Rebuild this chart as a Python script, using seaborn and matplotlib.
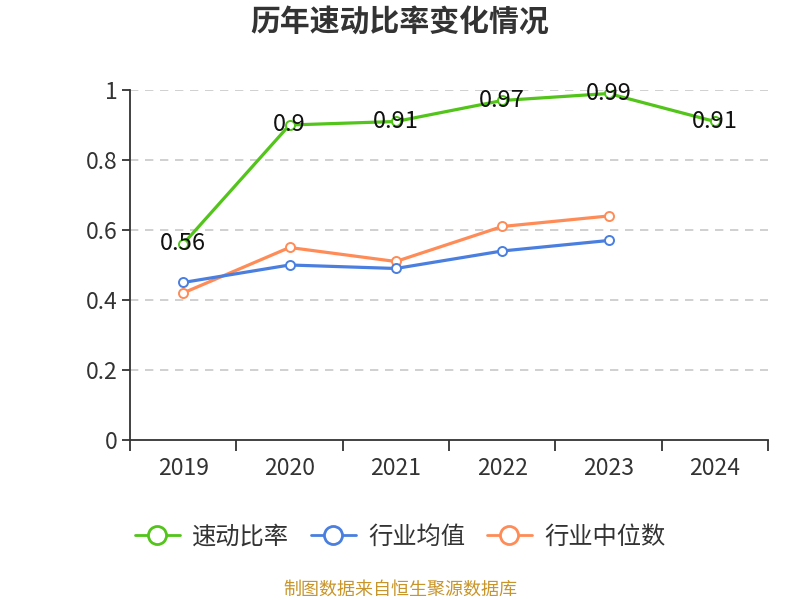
import pandas as pd
import matplotlib
matplotlib.use('Agg')
import matplotlib.pyplot as plt
import seaborn as sns
from matplotlib.lines import Line2D

# chart data
years = ['2019', '2020', '2021', '2022', '2023', '2024']
quick_ratio = [0.56, 0.90, 0.91, 0.97, 0.99, 0.91]
industry_mean = [0.45, 0.50, 0.49, 0.54, 0.57, None]
industry_median = [0.42, 0.55, 0.51, 0.61, 0.64, None]
series_names = ['速动比率', '行业均值', '行业中位数']
y_ticks = [0, 0.2, 0.4, 0.6, 0.8, 1]
y_tick_labels = ['0', '0.2', '0.4', '0.6', '0.8', '1']

sns.set_style('white')
plt.rcParams['font.family'] = ['Noto Sans CJK SC', 'DejaVu Sans']

colors = ['#52c41a', '#4a7fe0', '#ff8c57']

data = pd.DataFrame({
    'year': years * 3,
    'x': list(range(len(years))) * 3,
    'value': quick_ratio + industry_mean + industry_median,
    'series': [series_names[0]] * 6 + [series_names[1]] * 6 + [series_names[2]] * 6,
}).dropna()

fig = plt.figure(figsize=(8, 6), dpi=100)
ax = fig.add_axes([0.1625, 0.2667, 0.7975, 0.5833])

# draw lines, green on top
for name, c, z in zip(series_names[::-1], colors[::-1], [3, 4, 5]):
    d = data[data.series == name]
    sns.lineplot(data=d, x='x', y='value', ax=ax, color=c, linewidth=2.3,
                 marker='o', markersize=6.5, markerfacecolor='white',
                 markeredgecolor=c, markeredgewidth=1.4, zorder=z, legend=False)

# value labels on the main series
for i, v in enumerate(quick_ratio):
    ax.text(i, v, f'{v:g}', ha='center', va='center', fontsize=17,
            color='#111111', zorder=6)

ax.set_xlim(-0.5, len(years) - 0.5)
ax.set_ylim(0, 1)
ax.set_yticks(y_ticks)
ax.set_yticklabels(y_tick_labels, fontsize=16.5, color='#333333')
ax.set_xticks(range(len(years)))
ax.set_xticklabels(years, fontsize=16.5, color='#333333')
ax.tick_params(axis='x', which='major', bottom=False, length=0, pad=12)
# boundary tick marks on x axis
ax.set_xticks([i - 0.5 for i in range(len(years) + 1)], minor=True)
ax.tick_params(axis='x', which='minor', bottom=True, length=8, width=1.3,
               color='#333333', direction='out')
ax.tick_params(axis='y', left=True, length=6, width=1.3, color='#333333',
               direction='out', pad=3)
ax.set_xlabel('')
ax.set_ylabel('')

for y in y_ticks[1:]:
    ax.axhline(y, color='#c8c8c8', linestyle=(0, (5, 4)), linewidth=1.2, zorder=1)

for s in ['top', 'right']:
    ax.spines[s].set_visible(False)
for s in ['left', 'bottom']:
    ax.spines[s].set_color('#333333')
    ax.spines[s].set_linewidth(1.3)

fig.text(0.5, 0.962, '历年速动比率变化情况', ha='center', va='center',
         fontsize=21.5, fontweight='bold', color='#333333')

handles = [Line2D([0], [0], color=c, linewidth=2, marker='o', markersize=13,
                  markerfacecolor='white', markeredgecolor=c, markeredgewidth=2)
           for c in colors]
fig.legend(handles, series_names, loc='center', bbox_to_anchor=(0.5, 0.105),
           ncol=3, frameon=False, fontsize=17.5, handlelength=1.85,
           columnspacing=0.9, handletextpad=0.5, labelcolor='#333333')

fig.text(0.5, 0.017, '制图数据来自恒生聚源数据库', ha='center', va='center',
         fontsize=13, color='#c8952a')

fig.savefig('out.png', dpi=100)
